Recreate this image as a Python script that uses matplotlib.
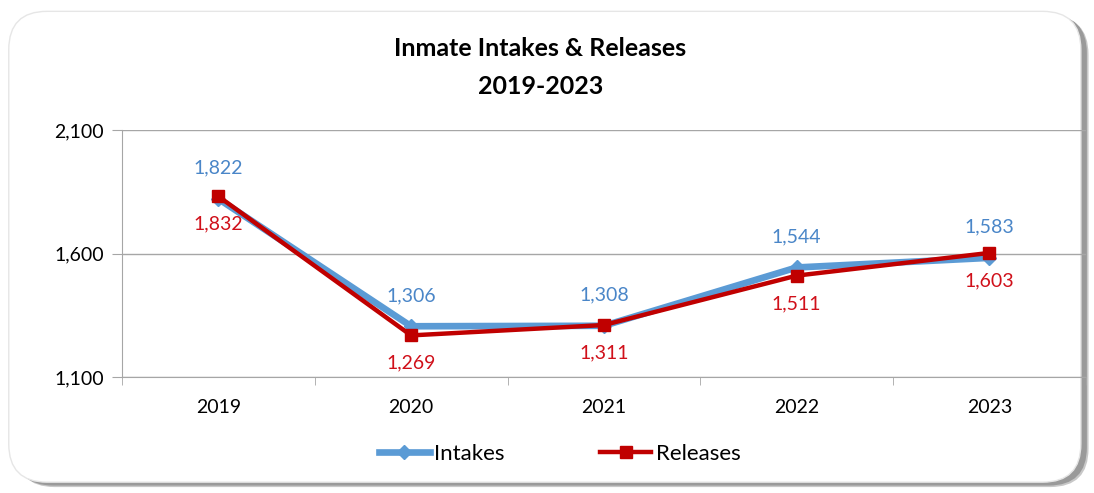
import matplotlib.pyplot as plt
from matplotlib.patches import FancyBboxPatch
from matplotlib.ticker import FixedLocator, FuncFormatter

# chart data
years = ["2019", "2020", "2021", "2022", "2023"]
intakes = [1822, 1306, 1308, 1544, 1583]
releases = [1832, 1269, 1311, 1511, 1603]
y_ticks = [1100, 1600, 2100]

BLUE = "#5b9bd5"
BLUE_TXT = "#4a86c8"
RED = "#c00000"
RED_TXT = "#d0101a"
GRID = "#a6a6a6"

plt.rcParams["font.family"] = ["Lato", "DejaVu Sans"]

fig = plt.figure(figsize=(10.94, 4.93), dpi=100)

# rounded chart frame with a soft shadow on right / bottom
for off, col in [(0.006, "#c8c8c8"), (0.003, "#9a9a9a")]:
    fig.patches.append(FancyBboxPatch(
        (0.012 + off * 0.5, 0.018 - off), 0.98, 0.955,
        boxstyle="round,pad=0,rounding_size=0.035",
        transform=fig.transFigure, facecolor=col, edgecolor="none",
        mutation_aspect=1094 / 493, zorder=-2))
fig.patches.append(FancyBboxPatch(
    (0.008, 0.022), 0.98, 0.955,
    boxstyle="round,pad=0,rounding_size=0.035",
    transform=fig.transFigure, facecolor="white", edgecolor="#e6e6e6",
    linewidth=1, mutation_aspect=1094 / 493, zorder=-1))

ax = fig.add_axes([0.1115, 0.235, 0.881, 0.501])
ax.set_zorder(2)
ax.patch.set_alpha(0)
x = list(range(len(years)))

ax.plot(x, intakes, color=BLUE, lw=4.8, marker="D", ms=7,
        mfc=BLUE, mec=BLUE, label="Intakes", zorder=3, solid_joinstyle="round")
ax.plot(x, releases, color=RED, lw=3.2, marker="s", ms=8,
        mfc=RED, mec=RED, label="Releases", zorder=4)

for i in x:
    ax.annotate(f"{intakes[i]:,}", (i, intakes[i]), xytext=(0, 16),
                textcoords="offset points", ha="center", va="bottom",
                color=BLUE_TXT, fontsize=14)
    ax.annotate(f"{releases[i]:,}", (i, releases[i]), xytext=(0, -14),
                textcoords="offset points", ha="center", va="top",
                color=RED_TXT, fontsize=14)

ax.set_xlim(-0.5, len(years) - 0.5)
ax.set_ylim(y_ticks[0], y_ticks[-1])
ax.set_xticks(x)
ax.set_xticklabels(years)
ax.xaxis.set_minor_locator(FixedLocator([i - 0.5 for i in range(len(years) + 1)]))
ax.tick_params(axis="x", which="major", length=0, pad=16, labelsize=14)
ax.tick_params(axis="x", which="minor", length=6, color=GRID, direction="out")
ax.yaxis.set_major_locator(FixedLocator(y_ticks))
ax.yaxis.set_major_formatter(FuncFormatter(lambda v, p: f"{v:,.0f}"))
ax.tick_params(axis="y", length=7, color=GRID, labelsize=14, pad=6)
ax.grid(axis="y", color=GRID, lw=1)
for s in ["top", "right"]:
    ax.spines[s].set_visible(False)
for s in ["left", "bottom"]:
    ax.spines[s].set_color(GRID)

fig.text(0.494, 0.863, "Inmate Intakes & Releases\n2019-2023", ha="center",
         va="center", fontsize=18, fontweight="bold", linespacing=1.8)

ax.legend(loc="center", bbox_to_anchor=(0.454, -0.31), ncol=2, frameon=False,
          fontsize=16, handlelength=2.3, handletextpad=0.2, columnspacing=4.3,
          borderaxespad=0)

fig.savefig("out.png", dpi=100)
